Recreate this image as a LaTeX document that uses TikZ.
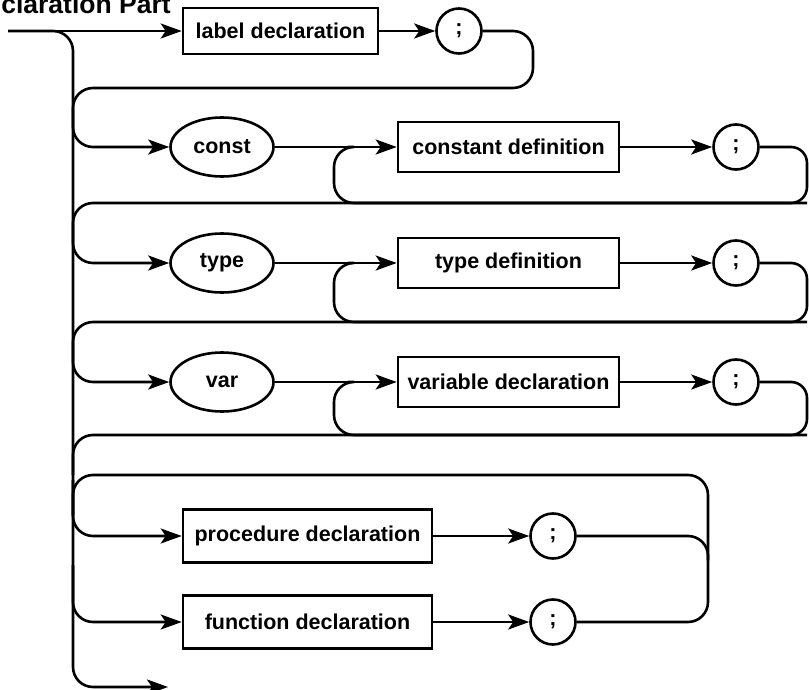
\documentclass[tikz,border=0pt]{standalone}
\usepackage{fontspec}
\setmainfont{Liberation Sans}
\usetikzlibrary{arrows.meta,shapes.geometric,calc}
\newcommand\lblfont{\fontsize{21.5}{25}\selectfont\bfseries}
\newcommand\ttlfont{\fontsize{26.5}{30}\selectfont\bfseries}
\begin{document}
\begin{tikzpicture}[x=1pt,y=-1pt,line width=2.6pt,
  rr/.style={rounded corners=20pt},
  rs/.style={rounded corners=16pt},
  arr/.style={-{Stealth[length=21pt,width=15pt,inset=5pt]}},
  box/.style={draw,rectangle,inner sep=0pt,font=\lblfont},
  term/.style={draw,ellipse,inner sep=0pt,minimum width=103pt,minimum height=59pt,font=\lblfont},
  semi/.style={draw,circle,inner sep=0pt,minimum size=45pt,font=\lblfont}]
\useasboundingbox (0,0) rectangle (809,690);

% title
\node[anchor=base west,inner sep=0pt,font=\ttlfont] (title) at (0,14) {claration Part};

% nodes
\node[box,minimum width=195pt,minimum height=46pt] (lab) at (280.5,31) {label declaration};
\node[semi] (s1) at (459,31) {;};

\node[term] (c) at (222,147) {const};
\node[box,minimum width=221pt,minimum height=50pt] (cd) at (508.5,147) {constant definition};
\node[semi] (s2) at (736,147) {;};

\node[term] (t) at (222,263) {type};
\node[box,minimum width=221pt,minimum height=50pt] (td) at (508.5,263) {type definition};
\node[semi] (s3) at (736,263) {;};

\node[term] (v) at (222,382) {var};
\node[box,minimum width=221pt,minimum height=50pt] (vd) at (508.5,382) {variable declaration};
\node[semi] (s4) at (736,382) {;};

\node[box,minimum width=249pt,minimum height=53pt] (p) at (307.5,536) {procedure declaration};
\node[semi] (sp) at (553,536) {;};
\node[box,minimum width=249pt,minimum height=53pt] (f) at (307.5,622) {function declaration};
\node[semi] (sf) at (553,622) {;};

% coordinates
\coordinate (in) at (8,31);
\coordinate (sb) at (73,687);
\coordinate (out) at (168,687);
\coordinate (R1) at (533,88);
\coordinate (R2) at (807,203);
\coordinate (R3) at (807,322);
\coordinate (R4) at (807,435);
\coordinate (L2) at (334,203);
\coordinate (L3) at (334,322);
\coordinate (L4) at (334,435);
\coordinate (J1) at (73,88);
\coordinate (J2) at (73,203);
\coordinate (J3) at (73,322);
\coordinate (J4) at (73,435);
\coordinate (T0) at (73,475);
\coordinate (T1) at (708,475);
\coordinate (PJ) at (73,480);
\coordinate (FJ) at (73,565);
\coordinate (RV) at (708,560);

% main line and spine
\draw[arr] (in) -- (lab.west);
\draw[rr,arr] (in) -| (sb) -- (out);
\draw[arr] (lab.east) -- (s1.west);

% label loop and branch to const
\draw[rr,arr] (s1.east) -| (R1) -- (J1) |- (c.west);

% const row
\draw[arr] (c.east) -- (cd.west);
\draw[arr] (cd.east) -- (s2.west);
\draw[rs] (s2.east) -| (R2) -- ($(L2)+(40,0)$);
\draw[rr] ($(L2)+(40,0)$) -- (L2) |- ($(c.east)!0.6!(cd.west)$);
\draw[rr,arr] (R2) -- (J2) |- (t.west);

% type row
\draw[arr] (t.east) -- (td.west);
\draw[arr] (td.east) -- (s3.west);
\draw[rs] (s3.east) -| (R3) -- ($(L3)+(40,0)$);
\draw[rr] ($(L3)+(40,0)$) -- (L3) |- ($(t.east)!0.6!(td.west)$);
\draw[rr,arr] (R3) -- (J3) |- (v.west);

% var row
\draw[arr] (v.east) -- (vd.west);
\draw[arr] (vd.east) -- (s4.west);
\draw[rs] (s4.east) -| (R4) -- ($(L4)+(40,0)$);
\draw[rr] ($(L4)+(40,0)$) -- (L4) |- ($(v.east)!0.6!(vd.west)$);
\draw[rr] (R4) -- (J4) -- ($(J4)+(0,40)$);

% procedure / function loop
\draw[rr] ($(T0)+(0,40)$) -- (T0) -- (T1) -- (RV);
\draw[rr,arr] (PJ) |- (p.west);
\draw[arr] (p.east) -- (sp.west);
\draw[rr] (sp.east) -| (RV);
\draw[rr,arr] (FJ) |- (f.west);
\draw[arr] (f.east) -- (sf.west);
\draw[rr] (sf.east) -| (RV);
\end{tikzpicture}
\end{document}
